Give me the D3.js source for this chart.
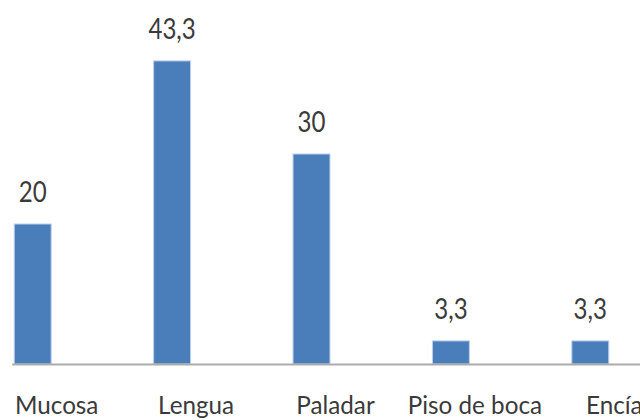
<!DOCTYPE html>
<html>
<head>
<meta charset="utf-8">
<script src="https://cdn.jsdelivr.net/npm/d3@7"></script>
<style>
  html, body { margin: 0; padding: 0; background: #ffffff; }
  svg { display: block; }
  text { font-family: Lato, "Open Sans", "Liberation Sans", sans-serif; fill: #3a3a3a; }
</style>
</head>
<body>
<svg id="chart" width="640" height="420"></svg>
<script>
// Localización de las lesiones (%)
const categories = ["Mucosa", "Lengua", "Paladar", "Piso de boca", "Encía"];
const values = [20, 43.3, 30, 3.3, 3.3];
const valueLabels = ["20", "43,3", "30", "3,3", "3,3"];

const width = 640, height = 420;
const svg = d3.select("#chart");

const x = d3.scaleBand()
  .domain(categories)
  .range([-37, 660])
  .paddingInner(0.735)
  .paddingOuter(0.3675);

const y = d3.scaleLinear()
  .domain([0, 52])
  .range([364, 0]);

// bars
svg.append("g")
  .selectAll("rect")
  .data(values)
  .join("rect")
  .attr("x", (d, i) => x(categories[i]))
  .attr("y", d => y(d))
  .attr("width", x.bandwidth())
  .attr("height", d => y(0) - y(d))
  .attr("fill", "#4a7ebb")
  .attr("stroke", "#bcd0ea")
  .attr("stroke-width", 1);

// category axis line
svg.append("line")
  .attr("x1", x(categories[0]) - 2)
  .attr("x2", width)
  .attr("y1", y(0) + 0.5)
  .attr("y2", y(0) + 0.5)
  .attr("stroke", "#ababab")
  .attr("stroke-width", 2);

// value labels above bars
svg.append("g")
  .selectAll("text")
  .data(values)
  .join("text")
  .attr("transform", (d, i) =>
    `translate(${x(categories[i]) + x.bandwidth() / 2},${y(d) - 22}) scale(0.86,1)`)
  .attr("text-anchor", "middle")
  .attr("font-size", 28)
  .text((d, i) => valueLabels[i]);

// category labels
svg.append("g")
  .selectAll("text")
  .data(categories)
  .join("text")
  .attr("transform", d =>
    `translate(${x(d) + x.bandwidth() / 2 + 24},414) scale(0.97,1)`)
  .attr("text-anchor", "middle")
  .attr("font-size", 25)
  .text(d => d);
</script>
</body>
</html>
